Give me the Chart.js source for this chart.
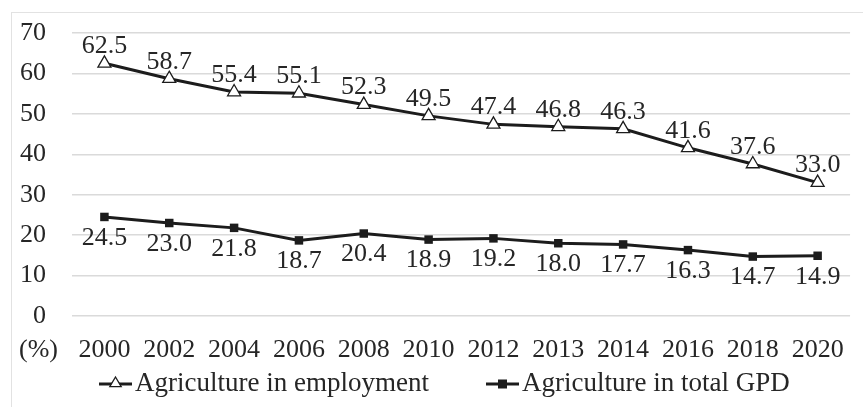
<!DOCTYPE html>
<html>
<head>
<meta charset="utf-8">
<script src="https://cdn.jsdelivr.net/npm/chart.js@4/dist/chart.umd.min.js"></script>
<style>
  html, body { margin: 0; padding: 0; background: #ffffff; }
  #wrap { position: relative; width: 863px; height: 407px; }
  #frame { position: absolute; left: 11px; top: 12px; width: 860px; height: 400px; border: 1.5px solid #e2e2e2; box-sizing: border-box; }
  canvas { position: absolute; left: 0; top: 0; }
</style>
</head>
<body>
<div id="wrap">
  <div id="frame"></div>
  <canvas id="c" width="863" height="407"></canvas>
</div>
<script>
const years = ['2000', '2002', '2004', '2006', '2008', '2010', '2012', '2013', '2014', '2016', '2018', '2020'];
const employmentShare = [62.5, 58.7, 55.4, 55.1, 52.3, 49.5, 47.4, 46.8, 46.3, 41.6, 37.6, 33.0];
const gdpShare = [24.5, 23.0, 21.8, 18.7, 20.4, 18.9, 19.2, 18.0, 17.7, 16.3, 14.7, 14.9];
const seriesNames = ['Agriculture in employment', 'Agriculture in total GPD'];
const unitLabel = '(%)';

const FONT = "'Liberation Serif', 'DejaVu Serif', serif";
const INK = '#1c1c1c';
const TEXT = '#262626';

function drawTriangle(g, x, y, r) {
  g.beginPath();
  g.moveTo(x, y - r);
  g.lineTo(x + r * 0.95, y + r * 0.62);
  g.lineTo(x - r * 0.95, y + r * 0.62);
  g.closePath();
  g.fillStyle = '#ffffff';
  g.fill();
  g.lineWidth = 1.3;
  g.strokeStyle = INK;
  g.stroke();
}

// Value labels above the employment markers and below the GDP markers,
// the unit caption on the category row, and a line-and-marker legend
const annotations = {
  id: 'annotations',
  afterDatasetsDraw(chart) {
    const ctx = chart.ctx;
    ctx.save();
    ctx.font = '26px ' + FONT;
    ctx.fillStyle = TEXT;
    ctx.textAlign = 'center';
    ctx.textBaseline = 'middle';
    chart.data.datasets.forEach((ds, i) => {
      const meta = chart.getDatasetMeta(i);
      meta.data.forEach((pt, j) => {
        const off = i === 0 ? -17 : 21;
        ctx.fillText(ds.data[j].toFixed(1), pt.x, pt.y + off);
      });
    });

    const xs = chart.scales.x;
    ctx.textAlign = 'left';
    ctx.fillText(unitLabel, 19, xs.top + 34.5);

    // legend
    const ly = xs.bottom + 18;
    const items = [
      { x: 99, kind: 'triangle', text: seriesNames[0] },
      { x: 486, kind: 'rect', text: seriesNames[1] }
    ];
    ctx.font = '27px ' + FONT;
    items.forEach(it => {
      ctx.strokeStyle = INK;
      ctx.lineWidth = 3;
      ctx.beginPath();
      ctx.moveTo(it.x, ly);
      ctx.lineTo(it.x + 33, ly);
      ctx.stroke();
      if (it.kind === 'triangle') {
        drawTriangle(ctx, it.x + 16.5, ly - 1, 6);
      } else {
        ctx.fillStyle = INK;
        ctx.fillRect(it.x + 12, ly - 4.5, 9, 9);
      }
      ctx.fillStyle = TEXT;
      ctx.fillText(it.text, it.x + 36, ly);
    });
    ctx.restore();
  }
};

new Chart(document.getElementById('c'), {
  type: 'line',
  data: {
    labels: years,
    datasets: [
      {
        label: seriesNames[0],
        data: employmentShare,
        borderColor: INK,
        borderWidth: 3,
        pointStyle: 'triangle',
        pointRadius: 7.5,
        pointBorderWidth: 1.3,
        pointBackgroundColor: '#ffffff',
        pointBorderColor: INK,
        tension: 0
      },
      {
        label: seriesNames[1],
        data: gdpShare,
        borderColor: INK,
        borderWidth: 3,
        pointStyle: 'rect',
        pointRadius: 6,
        pointBorderWidth: 0,
        pointBackgroundColor: INK,
        pointBorderColor: INK,
        tension: 0
      }
    ]
  },
  options: {
    responsive: false,
    animation: false,
    layout: { padding: { top: 33, right: 7, bottom: 41, left: 0 } },
    plugins: {
      tooltip: { enabled: false },
      legend: { display: false }
    },
    scales: {
      x: {
        offset: true,
        grid: { display: false, drawTicks: false },
        border: { display: false },
        ticks: { font: { family: FONT, size: 26 }, color: TEXT, padding: 19, maxRotation: 0, autoSkip: false },
        afterFit(s) { s.height = 50; }
      },
      y: {
        min: 0, max: 70,
        ticks: { stepSize: 10, font: { family: FONT, size: 26 }, color: TEXT, padding: 26 },
        grid: { color: '#dadada', lineWidth: 1.5, drawTicks: false },
        border: { display: false },
        afterFit(s) { s.width = 72; s.paddingTop = 0; s.paddingBottom = 0; }
      }
    }
  },
  plugins: [annotations]
});
</script>
</body>
</html>
